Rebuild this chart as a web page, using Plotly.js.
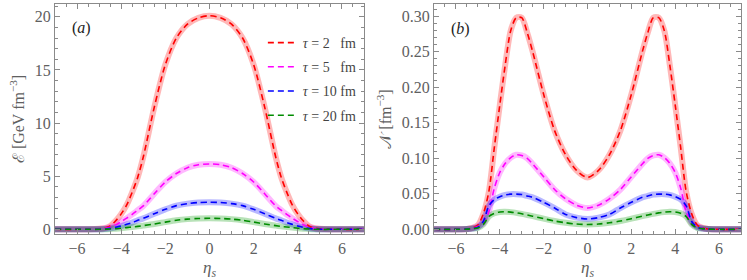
<!DOCTYPE html>
<html>
<head>
<meta charset="utf-8">
<script src="https://cdn.plot.ly/plotly-3.0.1.min.js"></script>
<style>html,body{margin:0;padding:0;background:#fff;}#chart{width:747px;height:280px;}</style>
</head>
<body>
<div id="chart"></div>
<script>
// Panel (a): energy density vs eta_s
const etaA = [-7, -6, -5.5, -5, -4.75, -4.5, -4.25, -4, -3.75, -3.5, -3.25, -3, -2.5, -2, -1.5, -1, -0.5, 0,
              0.5, 1, 1.5, 2, 2.5, 3, 3.25, 3.5, 3.75, 4, 4.25, 4.5, 4.75, 5, 5.5, 6, 7];
const epsTau2  = [0, 0, 0.01, 0.05, 0.12, 0.32, 0.8, 1.45, 2.3, 3.5, 4.9, 6.8, 11.5, 15.5, 18.0, 19.3, 19.9, 20.1,
                  19.9, 19.3, 18.0, 15.5, 11.5, 6.8, 4.9, 3.5, 2.3, 1.45, 0.8, 0.32, 0.12, 0.05, 0.01, 0, 0];
const epsTau5  = [0, 0, 0.005, 0.03, 0.09, 0.2, 0.42, 0.72, 1.05, 1.4, 1.8, 2.2, 3.35, 4.45, 5.25, 5.8, 6.08, 6.15,
                  6.08, 5.8, 5.25, 4.45, 3.35, 2.2, 1.8, 1.4, 1.05, 0.72, 0.42, 0.2, 0.09, 0.03, 0.005, 0, 0];
const epsTau10 = [0, 0, 0, 0.01, 0.03, 0.09, 0.19, 0.31, 0.47, 0.63, 0.85, 1.03, 1.47, 1.88, 2.23, 2.42, 2.52, 2.55,
                  2.52, 2.42, 2.23, 1.88, 1.47, 1.03, 0.85, 0.63, 0.47, 0.31, 0.19, 0.09, 0.03, 0.01, 0, 0, 0];
const epsTau20 = [0, 0, 0, 0, 0.01, 0.03, 0.06, 0.1, 0.16, 0.22, 0.28, 0.35, 0.5, 0.68, 0.85, 0.96, 1.02, 1.04,
                  1.02, 0.96, 0.85, 0.68, 0.5, 0.35, 0.28, 0.22, 0.16, 0.1, 0.06, 0.03, 0.01, 0, 0, 0, 0];

// Panel (b): number density vs eta_s
const etaB = [-7, -6, -5.5, -5.25, -5, -4.75, -4.5, -4.25, -4, -3.75, -3.5, -3.25, -3, -2.75, -2.5, -2, -1.5, -1, -0.5, 0,
              0.5, 1, 1.5, 2, 2.5, 2.75, 3, 3.25, 3.5, 3.75, 4, 4.25, 4.5, 4.75, 5, 5.25, 5.5, 6, 7];
const nTau2  = [0, 0, 0.0005, 0.002, 0.006, 0.022, 0.053, 0.115, 0.175, 0.232, 0.28, 0.298, 0.298, 0.277, 0.25, 0.19, 0.139, 0.105, 0.083, 0.073,
                0.083, 0.105, 0.139, 0.19, 0.25, 0.277, 0.298, 0.298, 0.28, 0.232, 0.175, 0.115, 0.053, 0.022, 0.006, 0.002, 0.0005, 0, 0];
const nTau5  = [0, 0, 0.0005, 0.0015, 0.004, 0.009, 0.025, 0.058, 0.08, 0.093, 0.101, 0.105, 0.104, 0.1, 0.092, 0.074, 0.056, 0.043, 0.034, 0.030,
                0.034, 0.043, 0.056, 0.074, 0.092, 0.1, 0.104, 0.105, 0.101, 0.093, 0.08, 0.058, 0.025, 0.009, 0.004, 0.0015, 0.0005, 0, 0];
const nTau10 = [0, 0, 0.0005, 0.001, 0.003, 0.011, 0.033, 0.042, 0.046, 0.0485, 0.0495, 0.0495, 0.049, 0.047, 0.045, 0.038, 0.03, 0.021, 0.0165, 0.0145,
                0.0165, 0.021, 0.03, 0.038, 0.045, 0.047, 0.049, 0.0495, 0.0495, 0.0485, 0.046, 0.042, 0.033, 0.011, 0.003, 0.001, 0.0005, 0, 0];
const nTau20 = [0, 0, 0.0003, 0.001, 0.002, 0.007, 0.018, 0.0225, 0.0245, 0.0248, 0.0242, 0.0232, 0.0218, 0.0202, 0.0185, 0.015, 0.0117, 0.0092, 0.0074, 0.0068,
                0.0074, 0.0092, 0.0117, 0.015, 0.0185, 0.0202, 0.0218, 0.0232, 0.0242, 0.0248, 0.0245, 0.0225, 0.018, 0.007, 0.002, 0.001, 0.0003, 0, 0];

const seriesNames = ['<i>τ</i> = 2 &nbsp;&nbsp;fm', '<i>τ</i> = 5 &nbsp;&nbsp;fm', '<i>τ</i> = 10 fm', '<i>τ</i> = 20 fm'];
const lineColors = ['rgb(255,0,0)', 'rgb(255,0,255)', 'rgb(0,0,255)', 'rgb(0,140,0)'];
const haloColors = ['rgba(255,0,0,0.28)', 'rgba(255,0,255,0.28)', 'rgba(0,0,255,0.28)', 'rgba(0,150,0,0.28)'];

const epsSeries = [epsTau2, epsTau5, epsTau10, epsTau20];
const nSeries = [nTau2, nTau5, nTau10, nTau20];

const traces = [];
function addPanel(xs, ys, xa, ya, legend) {
  ys.forEach((y, i) => {
    traces.push({x: xs, y: y, xaxis: xa, yaxis: ya, type: 'scatter', mode: 'lines',
      line: {color: haloColors[i], width: 6, shape: 'spline', smoothing: 0.8},
      showlegend: false, hoverinfo: 'skip'});
  });
  ys.forEach((y, i) => {
    traces.push({x: xs, y: y, xaxis: xa, yaxis: ya, type: 'scatter', mode: 'lines',
      name: seriesNames[i], legendgroup: 'g' + i,
      line: {color: lineColors[i], width: 1.6, dash: '6px,4px', shape: 'spline', smoothing: 0.8},
      showlegend: legend});
  });
}
addPanel(etaA, epsSeries, 'x', 'y', true);
addPanel(etaB, nSeries, 'x2', 'y2', false);

const fontFam = 'Liberation Serif';
const tickGray = '#606060';
const frameGray = '#8a8a8a';

function xAxis(domain, anchor) {
  return {domain: domain, anchor: anchor, range: [-7, 7], dtick: 2, tick0: 0,
    ticks: 'inside', ticklen: 5, tickcolor: frameGray, tickwidth: 1,
    minor: {dtick: 0.5, ticks: 'inside', ticklen: 3, tickcolor: frameGray},
    showline: true, linecolor: frameGray, linewidth: 1, mirror: 'allticks',
    showgrid: false, zeroline: false,
    tickfont: {family: fontFam, size: 16, color: tickGray},
    title: {text: '<i>η<sub>s</sub></i>', font: {family: fontFam, size: 17, color: tickGray}, standoff: 8}};
}

const layout = {
  width: 747, height: 280,
  margin: {l: 55, r: 6, t: 4, b: 46},
  paper_bgcolor: '#fff', plot_bgcolor: '#fff',
  font: {family: fontFam},
  showlegend: true,
  legend: {x: 0.303, y: 0.9, xanchor: 'left', yanchor: 'top', bgcolor: 'rgba(0,0,0,0)',
    font: {family: fontFam, size: 14, color: '#444'}, tracegroupgap: 3, itemwidth: 30},
  xaxis: xAxis([0, 0.4504], 'y'),
  xaxis2: xAxis([0.5525, 1], 'y2'),
  yaxis: {domain: [0, 1], anchor: 'x', range: [-0.44, 21.2], dtick: 5,
    ticks: 'inside', ticklen: 5, tickcolor: frameGray,
    minor: {dtick: 1, ticks: 'inside', ticklen: 3, tickcolor: frameGray},
    showline: true, linecolor: frameGray, mirror: 'allticks', showgrid: false, zeroline: false,
    tickfont: {family: fontFam, size: 16, color: tickGray},
    title: {text: 'ℰ [GeV fm<sup>−3</sup>]', font: {family: fontFam, size: 16, color: tickGray}, standoff: 6}},
  yaxis2: {domain: [0, 1], anchor: 'x2', range: [-0.0066, 0.3173], dtick: 0.05, tickformat: '.2f',
    ticks: 'inside', ticklen: 5, tickcolor: frameGray,
    minor: {dtick: 0.01, ticks: 'inside', ticklen: 3, tickcolor: frameGray},
    showline: true, linecolor: frameGray, mirror: 'allticks', showgrid: false, zeroline: false,
    tickfont: {family: fontFam, size: 16, color: tickGray},
    title: {text: '𝒩 [fm<sup>−3</sup>]', font: {family: fontFam, size: 16, color: tickGray}, standoff: 6}},
  annotations: [
    {text: '(<i>a</i>)', xref: 'x', yref: 'y', x: -6.3, y: 18.9, showarrow: false, xanchor: 'left',
      font: {family: fontFam, size: 16, color: '#222'}},
    {text: '(<i>b</i>)', xref: 'x2', yref: 'y2', x: -6.3, y: 0.282, showarrow: false, xanchor: 'left',
      font: {family: fontFam, size: 16, color: '#222'}}
  ]
};

Plotly.newPlot('chart', traces, layout, {displayModeBar: false, staticPlot: true});
</script>
</body>
</html>
